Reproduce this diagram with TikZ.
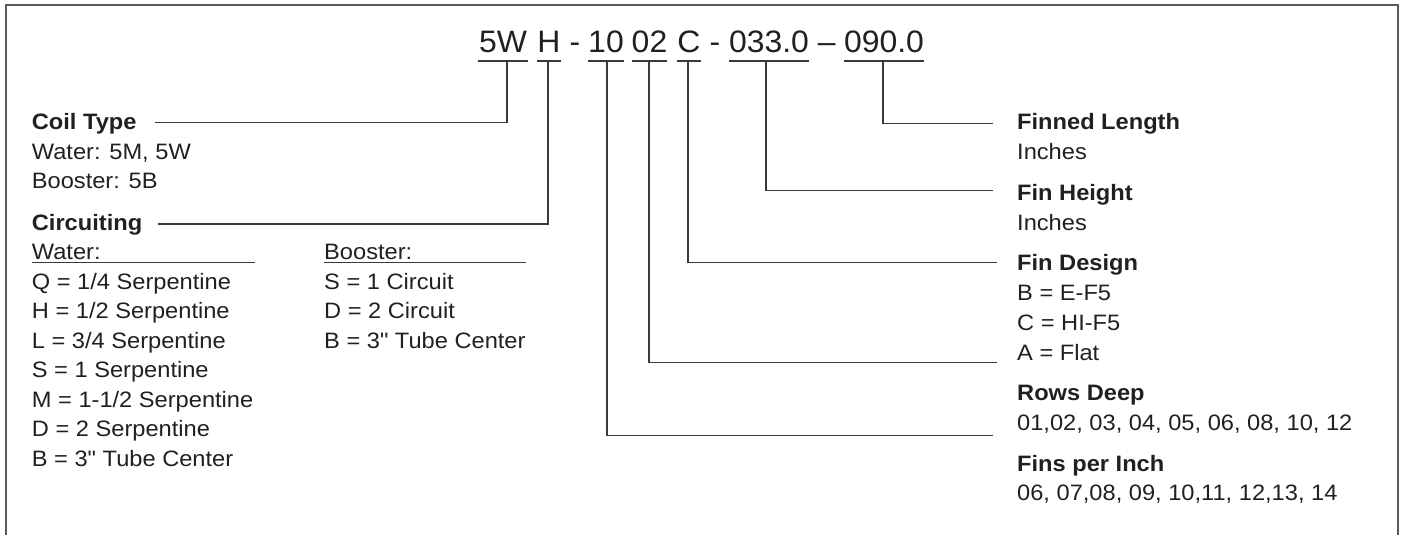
\documentclass[tikz,border=0pt]{standalone}
\usepackage{fontspec}
\newfontfamily\bodyfont[FakeStretch=1.06]{Liberation Sans}
\newfontfamily\headfont[FakeStretch=1.03]{Liberation Sans}
\definecolor{ink}{HTML}{231F20}
\definecolor{lead}{HTML}{3A3A3A}
\definecolor{framec}{HTML}{5A5A5A}
\begin{document}
\begin{tikzpicture}[x=1pt,y=-1pt,
  txt/.style={anchor=base west,inner sep=0pt,text=ink,font=\bodyfont\fontsize{22.3}{26}\selectfont},
  hd/.style={txt,font=\bodyfont\fontsize{22.3}{26}\selectfont\bfseries},
  tok/.style={anchor=base,inner sep=0pt,text=ink,font=\headfont\fontsize{31}{36}\selectfont},
  ln/.style={draw=lead,line width=1.2pt},
  ul/.style={draw=lead,line width=1.6pt},
  frm/.style={draw=framec,line width=2pt}]
\useasboundingbox (0,0) rectangle (1401,535);
\draw[frm] (6,540) -- (6,5) -- (1397.5,5) -- (1397.5,540);

% model code tokens
\node[tok,minimum width=50] (t1) at (503,53) {5W};
\node[tok,minimum width=24] (t2) at (549,53) {H};
\node[tok] (d1) at (575,53) {-};
\node[tok,minimum width=34] (t3) at (606,53) {10};
\node[tok,minimum width=35] (t4) at (649.5,53) {02};
\node[tok,minimum width=24] (t5) at (689,53) {C};
\node[tok] (d2) at (715,53) {-};
\node[tok,minimum width=80] (t6) at (769,53) {033.0};
\node[tok] (d3) at (826.7,53) {–};
\node[tok,minimum width=80] (t7) at (884,53) {090.0};
\foreach \t in {t1,t2,t3,t4,t5,t6,t7}
  \draw[ul] ([yshift=-8pt]\t.base west) -- ([yshift=-8pt]\t.base east);

% left column
\node[hd] (coil) at (31.7,129.3) {Coil Type};
\node[txt] (coil1) at (31.7,159) {Water: 5M, 5W};
\node[txt] (coil2) at (31.7,188.5) {Booster: 5B};
\node[hd] (circ) at (31.7,230.5) {Circuiting};
\node[txt] (water) at (31.7,259.3) {Water:};
\node[txt] (wq) at (31.7,289.3) {Q = 1/4 Serpentine};
\node[txt] (wh) at (31.7,318.8) {H = 1/2 Serpentine};
\node[txt] (wl) at (31.7,348.3) {L = 3/4 Serpentine};
\node[txt] (ws) at (31.7,377.8) {S = 1 Serpentine};
\node[txt] (wm) at (31.7,407.3) {M = 1-1/2 Serpentine};
\node[txt] (wd) at (31.7,436.8) {D = 2 Serpentine};
\node[txt] (wb) at (31.7,466.3) {B = 3" Tube Center};
\node[txt] (boost) at (324,259.3) {Booster:};
\node[txt] (bs) at (324,289.3) {S = 1 Circuit};
\node[txt] (bd) at (324,318.8) {D = 2 Circuit};
\node[txt] (bb) at (324,348.3) {B = 3" Tube Center};
\draw[ln] ([yshift=-3pt]water.base west) -- ++(223,0);
\draw[ln] ([yshift=-3pt]boost.base west) -- ++(202,0);

% right column
\node[hd] (finlen) at (1017,129.3) {Finned Length};
\node[txt] (finlen1) at (1017,159.3) {Inches};
\node[hd] (finh) at (1017,200) {Fin Height};
\node[txt] (finh1) at (1017,230) {Inches};
\node[hd] (find) at (1017,270.5) {Fin Design};
\node[txt] (find1) at (1017,300.7) {B = E-F5};
\node[txt] (find2) at (1017,330.4) {C = HI-F5};
\node[txt] (find3) at (1017,360) {A = Flat};
\node[hd] (rows) at (1017,400) {Rows Deep};
\node[txt] (rows1) at (1017,430) {01,02, 03, 04, 05, 06, 08, 10, 12};
\node[hd] (fpi) at (1017,471) {Fins per Inch};
\node[txt] (fpi1) at (1017,500.7) {06, 07,08, 09, 10,11, 12,13, 14};

% leader coordinates
\coordinate (s1) at (507,61);   \coordinate (e1) at (155,122.3);
\coordinate (s2) at (548,61);   \coordinate (e2) at (158,224);
\coordinate (s3) at (607,61);   \coordinate (e3) at (992.7,435.7);
\coordinate (s4) at (649,61);   \coordinate (e4) at (996.7,362.7);
\coordinate (s5) at (688,61);   \coordinate (e5) at (996.7,262.7);
\coordinate (s6) at (766,61);   \coordinate (e6) at (992.7,190.7);
\coordinate (s7) at (883,61);   \coordinate (e7) at (992.7,123.3);
\foreach \i in {1,...,7}
  \draw[ln] (s\i) |- (e\i);
\end{tikzpicture}
\end{document}
